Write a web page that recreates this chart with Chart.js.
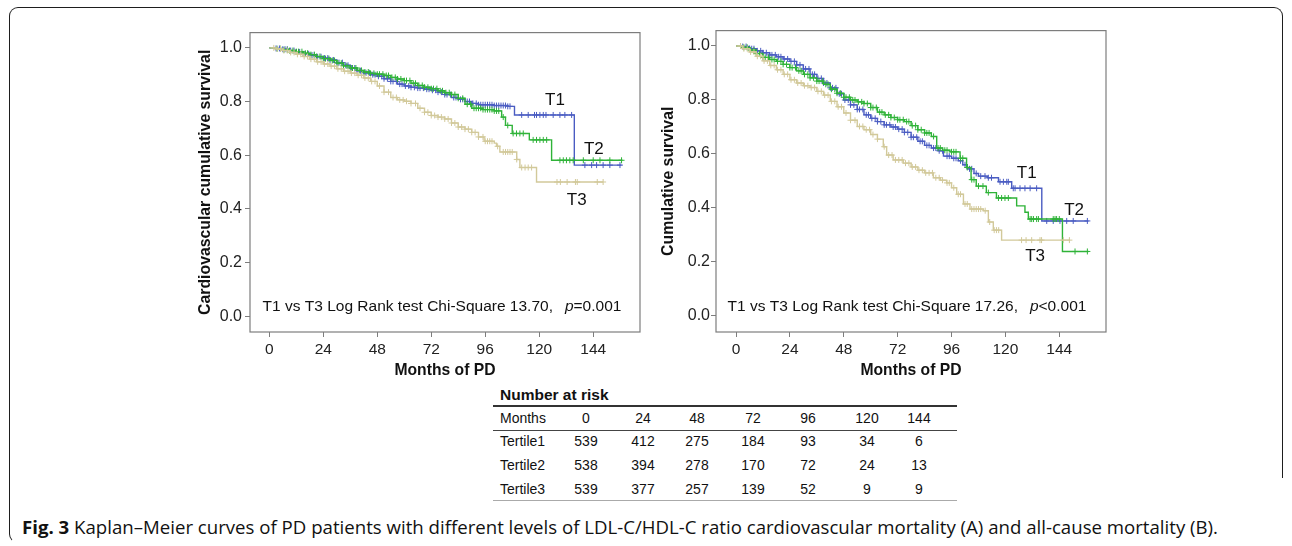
<!DOCTYPE html>
<html><head><meta charset="utf-8">
<script src="https://cdn.jsdelivr.net/npm/chart.js@4.4.0/dist/chart.umd.min.js"></script>
<style>
html,body{margin:0;padding:0;background:#fff;}
body{width:1292px;height:546px;overflow:hidden;position:relative;font-family:"Liberation Sans",Arial,sans-serif;color:#111;}
.frameTop{position:absolute;left:9px;top:7px;width:1272px;height:470px;border:1.5px solid #1e1e1e;border-bottom:none;border-radius:9px 9px 0 0;}
.frameLeft{position:absolute;left:9px;top:470px;width:10px;height:72px;border-left:1.5px solid #1e1e1e;border-bottom:1.5px solid transparent;border-radius:0 0 0 9px;}
canvas{position:absolute;}
.t{position:absolute;white-space:nowrap;transform:translate(-50%,-50%);font-size:14px;color:#111;}
.tl{position:absolute;white-space:nowrap;transform:translate(0,-50%);font-size:14px;color:#111;}
.hl{position:absolute;left:493px;width:464px;}
#cap{position:absolute;left:22px;top:527px;transform-origin:0 50%;white-space:nowrap;font-family:"Open Sans",sans-serif;font-size:17.5px;color:#111;line-height:22px;margin-top:-11px;}
</style>
</head><body>
<div class="frameTop"></div>
<div class="frameLeft"></div>
<canvas id="cA" width="455" height="365" style="left:190px;top:20px;"></canvas>
<canvas id="cB" width="461" height="365" style="left:650px;top:20px;"></canvas>
<div id="tbl"></div>
<div id="cap"><b>Fig. 3</b> Kaplan–Meier curves of PD patients with different levels of LDL-C/HDL-C ratio cardiovascular mortality (A) and all-cause mortality (B).</div>
<script>
// ---------- tick labels ----------
const xTicks = [0, 24, 48, 72, 96, 120, 144];
const yTicks = [0.0, 0.2, 0.4, 0.6, 0.8, 1.0];
const seriesNames = ["T1", "T2", "T3"];

// ---------- Panel A: cardiovascular cumulative survival ----------
const aT1Time = [0,3,6,9,12,15,18,21,24,27,30,33,36,39,42,45,48,51,54,57,60,63,66,69,72,75,78,81,84,87,90,93,100,106,109,135.6,156.6];
const aT1Surv = [1,0.998,0.995,0.99,0.985,0.978,0.973,0.967,0.962,0.955,0.945,0.935,0.925,0.915,0.907,0.9,0.894,0.885,0.875,0.865,0.858,0.853,0.85,0.846,0.842,0.835,0.826,0.815,0.808,0.8,0.793,0.788,0.785,0.782,0.75,0.563,0.563];
const aT1Cens = [3,4.5,6,7,8,9.5,11,12,13.5,15,16,17.5,19,20,21.5,23,24.5,26,27,28.5,30,31,32.5,34,35,36.5,38,39,40.5,42,43,44.5,46,47,48.5,50,51,52.5,54,55,56.5,58,59,60.5,62,63,64.5,66,67,68.5,70,71,72.5,74,75,76.5,78,79,80.5,82,83,85,86,88,89,90.5,92,93,94,95,96,97,98,99,100,101,102,103,104,105,106,107,112.2,115.1,117.9,118.8,120.3,121.8,123,126.2,129.2,131.4,134.4,140.3,143.3,145.5,148.4,151.4,155.9];

const aT2Time = [0,3,6,9,12,15,18,21,24,27,30,33,36,39,42,45,48,51,54,57,60,63,66,69,72,75,78,81,84,87,90,95,100,103.3,105,108,115.6,125.5,157];
const aT2Surv = [1,0.997,0.993,0.99,0.986,0.98,0.975,0.968,0.96,0.953,0.943,0.933,0.925,0.916,0.91,0.905,0.902,0.897,0.89,0.884,0.878,0.868,0.86,0.853,0.848,0.84,0.833,0.826,0.812,0.79,0.775,0.77,0.765,0.742,0.711,0.681,0.657,0.581,0.581];
const aT2Cens = [3.5,5,6.5,8,9,10.5,12,13,14.5,16,17,18.5,20,21,22.5,24,25,26.5,28,29,30.5,32,33,34.5,36,37,38.5,40,41,42.5,44,45,46.5,48,49,50.5,52,53,54.5,56,57,58.5,60,61,62.5,64,65,66.5,68,69,70.5,72,73,74.5,76,77,78.5,80,81,82.5,84,86,88,89.5,91,92,93,94,95,96,97,98,99,100,101,102,104,106,108.4,109.9,111.4,112.9,117.3,118.8,120.3,121.8,123.3,129.2,130.7,132.1,133.6,135.1,139.6,144,147,151.4,156.6];

const aT3Time = [0,3,6,9,12,15,18,21,24,27,30,33,36,39,42,45,48,51,54,57,60,63,66,69,72,75,78,81,84,87,90,93,95.5,100,101,102.5,110,111.4,118.8,148.4];
const aT3Surv = [1,0.996,0.99,0.983,0.976,0.968,0.958,0.948,0.94,0.932,0.922,0.913,0.906,0.898,0.888,0.875,0.858,0.835,0.815,0.806,0.801,0.793,0.775,0.76,0.748,0.742,0.735,0.72,0.705,0.697,0.685,0.668,0.652,0.645,0.633,0.612,0.584,0.554,0.5,0.5];
const aT3Cens = [2,3.5,5,6.5,8,9.5,11,12.5,14,15.5,17,18.5,20,21.5,23,24.5,26,27.5,29,30.5,32,33.5,35,36.5,38,39.5,41,42.5,44,45.5,47,49,51,53,55,56.5,58,59.5,61,63,65,67,69,70.5,72,73.5,75,76.5,78,79.5,81,82.5,84,85.5,87,88.5,90,91.5,93,95,96,97,98,99,101.5,104,105,106,107,108,110,112.2,113.7,115.1,116.6,127.9,129.4,132.4,136.1,136.9,145.8,148.4];

// ---------- Panel B: all-cause cumulative survival ----------
const bT1Time = [0,3,6,9,12,15,18,21,24,27,30,33,36,39,42,45,48,51,54,57,60,63,66,69,72,75,78,81,84,87,90,92.4,96,99,101,103,106,108,112,116.9,122.8,136.2,157];
const bT1Surv = [1,0.998,0.99,0.982,0.975,0.967,0.96,0.952,0.943,0.93,0.915,0.895,0.88,0.863,0.845,0.823,0.8,0.782,0.765,0.745,0.732,0.72,0.708,0.7,0.692,0.68,0.662,0.647,0.632,0.622,0.612,0.592,0.584,0.575,0.56,0.545,0.528,0.518,0.512,0.497,0.473,0.352,0.352];
const bT1Cens = [3,4.5,6,7,8,9.5,11,12,13.5,15,16,17.5,19,20,21.5,23,24.5,26,27,28.5,30,31,32.5,34,35,36.5,38,39,40.5,42,43,44.5,46,47,48.5,50,51,52.5,54,55,56.5,58,59,60.5,62,63,64.5,66,67,68.5,70,71,72.5,74,75,76.5,78,79,80.5,82,83,85,86,88,89,90.5,92,94,95,97,98,100,102,104,105,107,109,110.9,112.4,113.8,117.6,119.1,120.6,121.3,123.5,124.3,126.5,128.7,131,133.9,138.4,141.3,144.3,147.3,150.2,156.5];

const bT2Time = [0,3,6,9,12,15,18,21,24,27,30,33,36,39,42,45,48,51,54,57,60,63,66,69,72,75,78,81,84,87,89.4,92,95.3,99.8,102.7,104.7,107,111.5,116,125,128.7,130.2,145.4,157];
const bT2Surv = [1,0.995,0.985,0.972,0.958,0.95,0.943,0.932,0.92,0.908,0.895,0.882,0.87,0.858,0.84,0.825,0.81,0.8,0.793,0.787,0.772,0.755,0.745,0.735,0.727,0.72,0.705,0.69,0.678,0.665,0.622,0.614,0.608,0.584,0.55,0.505,0.481,0.457,0.437,0.408,0.384,0.359,0.239,0.239];
const bT2Cens = [3.5,5,6.5,8,9,10.5,12,13,14.5,16,17,18.5,20,21,22.5,24,25,26.5,28,29,30.5,32,33,34.5,36,37,38.5,40,41,42.5,44,45,46.5,48,49,50.5,52,53,54.5,56,57,58.5,60,61,62.5,64,65,66.5,68,69,70.5,72,73,74.5,76,77,78.5,80,81,82.5,84,85,86,88,90,91,93,94,96,97,98,100,101,103,105,106,108,110,112.4,116.9,118.3,119.8,121.3,131,131.7,132.5,133.9,134.7,141.3,142.1,142.8,144,151,156.5];

const bT3Time = [0,3,6,9,12,15,18,21,24,27,30,33,36,39,42,45,48,51,54,57,60,63,65.6,67.1,70,74.5,78,81,84,87.9,91,93.8,96,98.3,101.3,104.2,110.2,112.4,114.6,118.3,148.8];
const bT3Surv = [1,0.99,0.978,0.962,0.945,0.928,0.912,0.895,0.875,0.863,0.853,0.846,0.832,0.818,0.795,0.775,0.752,0.725,0.702,0.69,0.672,0.655,0.627,0.596,0.578,0.566,0.552,0.54,0.53,0.512,0.503,0.493,0.475,0.451,0.415,0.396,0.39,0.348,0.318,0.281,0.281];
const bT3Cens = [2,3.5,5,6.5,8,9.5,11,12.5,14,15.5,17,18.5,20,21.5,23,24.5,26,27.5,29,30.5,32,33.5,35,36.5,38,39.5,41,42.5,44,45.5,47,49,51,53,55,56.5,58,59.5,61,63,66,68,69.5,71,72.5,74,75.5,77,78.5,80,81.5,83,84.5,86,87.5,89,90.5,92,94,95,97,99,100,102,103,105,106,107,108,109,111,113,115,116,117,127.2,129.2,131.7,135.4,136.1,145.8,148.5];

// ---------- Number at risk ----------
const riskMonths = [0, 24, 48, 72, 96, 120, 144];
const riskRows = ["Tertile1", "Tertile2", "Tertile3"];
const riskT1 = [539, 412, 275, 184, 93, 34, 6];
const riskT2 = [538, 394, 278, 170, 72, 24, 13];
const riskT3 = [539, 377, 257, 139, 52, 9, 9];

// ---------- styles ----------
const COLORS = ["#4a5cc2", "#2fb338", "#d2c99a"];
const FONT = '"Liberation Sans", Arial, sans-serif';

function stepData(times, surv) { return times.map((t, i) => ({x: t, y: surv[i]})); }
function censorData(cens, times, surv) {
  return cens.map(c => { let i = 0; while (i + 1 < times.length && times[i + 1] <= c) i++; return {x: c, y: surv[i]}; });
}

const framePlugin = {
  id: 'kmFrame',
  afterDraw(chart, args, o) {
    const {ctx, chartArea: a, scales: {x, y}} = chart;
    ctx.save();
    ctx.strokeStyle = '#7d7d7d'; ctx.lineWidth = 1.2;
    ctx.strokeRect(a.left, a.top, a.right - a.left, a.bottom - a.top);
    ctx.fillStyle = '#111'; ctx.textAlign = 'center'; ctx.textBaseline = 'middle';
    ctx.font = '17px ' + FONT;
    o.labels.forEach((l, i) => ctx.fillText(seriesNames[i], x.getPixelForValue(l[0]), y.getPixelForValue(l[1])));
    // note text
    const p1 = o.note[0], p2 = 'p', p3 = o.note[1], gap = 12;
    const fN = '15.5px ' + FONT, fI = 'italic 15.5px ' + FONT;
    ctx.font = fN; const w1 = ctx.measureText(p1).width, w3 = ctx.measureText(p3).width;
    ctx.font = fI; const w2 = ctx.measureText(p2).width;
    let sx = (a.left + a.right) / 2 + o.noteDx - (w1 + gap + w2 + w3) / 2;
    const sy = a.bottom - 25;
    ctx.textAlign = 'left';
    ctx.font = fN; ctx.fillText(p1, sx, sy); sx += w1 + gap;
    ctx.font = fI; ctx.fillText(p2, sx, sy); sx += w2;
    ctx.font = fN; ctx.fillText(p3, sx, sy);
    ctx.restore();
  }
};

function makeChart(id, series, xr, yTitle, yAxisW, yTitlePad, yTickPad, labels, note, noteDx) {
  const datasets = [];
  series.forEach((s, i) => {
    datasets.push({type: 'line', data: stepData(s[0], s[1]), stepped: true, borderColor: COLORS[i], borderWidth: 1.4, pointRadius: 0, fill: false, order: 10 - i});
    datasets.push({type: 'scatter', data: censorData(s[2], s[0], s[1]), showLine: false, pointStyle: 'cross', pointRadius: 3, borderColor: COLORS[i], borderWidth: 1, order: 10 - i});
  });
  return new Chart(document.getElementById(id), {
    type: 'line',
    data: {datasets},
    plugins: [framePlugin],
    options: {
      responsive: false, animation: false, devicePixelRatio: 1,
      layout: {padding: {top: 5, right: 5, left: 0, bottom: 0}},
      plugins: {legend: {display: false}, tooltip: {enabled: false}, kmFrame: {labels, note, noteDx}},
      scales: {
        x: {type: 'linear', min: xr[0], max: xr[1],
          afterBuildTicks: sc => { sc.ticks = xTicks.map(v => ({value: v})); },
          afterFit: sc => { sc.height = 53; },
          grid: {display: true, drawOnChartArea: false, drawTicks: true, tickLength: 5, color: '#7d7d7d'},
          border: {display: false},
          ticks: {font: {family: FONT, size: 15.5}, color: '#222', padding: 3, maxRotation: 0, callback: v => String(v)},
          title: {display: true, text: 'Months of PD', font: {family: FONT, size: 15.7, weight: 'bold'}, color: '#111', padding: {top: 0, bottom: 5}}
        },
        y: {type: 'linear', min: -0.0593, max: 1.057,
          afterBuildTicks: sc => { sc.ticks = yTicks.map(v => ({value: v})); },
          afterFit: sc => { sc.width = yAxisW; },
          grid: {display: true, drawOnChartArea: false, drawTicks: true, tickLength: 5, color: '#7d7d7d'},
          border: {display: false},
          ticks: {font: {family: FONT, size: 16}, color: '#222', padding: yTickPad, callback: v => v.toFixed(1)},
          title: {display: true, text: yTitle, font: {family: FONT, size: 15.8, weight: 'bold'}, color: '#111', padding: {top: yTitlePad, bottom: 0}}
        }
      }
    }
  });
}

makeChart('cA', [[aT1Time, aT1Surv, aT1Cens], [aT2Time, aT2Surv, aT2Cens], [aT3Time, aT3Surv, aT3Cens]],
  [-8.58, 164.8], 'Cardiovascular cumulative survival', 60, 6, 3,
  [[127, 0.803], [144.3, 0.621], [136.7, 0.433]],
  ['T1 vs T3 Log Rank test Chi-Square 13.70,', '=0.001'], -3);
makeChart('cB', [[bT1Time, bT1Surv, bT1Cens], [bT2Time, bT2Surv, bT2Cens], [bT3Time, bT3Surv, bT3Cens]],
  [-8.91, 164.8], 'Cumulative survival', 66, 9, 1,
  [[129.5, 0.53], [150.6, 0.392], [133.2, 0.221]],
  ['T1 vs T3 Log Rank test Chi-Square 17.26,', '<0.001'], -4);

// ---------- risk table ----------
(function () {
  const tbl = document.getElementById('tbl');
  const cols = [586, 643, 697, 753, 808, 867, 919];
  const rowY = [418, 441, 465, 489];
  function add(cls, txt, x, y, extra) {
    const d = document.createElement('div'); d.className = cls; d.textContent = txt;
    d.style.left = x + 'px'; d.style.top = y + 'px'; if (extra) Object.assign(d.style, extra); tbl.appendChild(d);
  }
  add('tl', 'Number at risk', 500, 395, {fontWeight: 'bold', fontSize: '15.5px'});
  add('tl', 'Months', 500, rowY[0]);
  riskMonths.forEach((m, i) => add('t', String(m), cols[i], rowY[0]));
  [riskT1, riskT2, riskT3].forEach((row, r) => {
    add('tl', riskRows[r], 500, rowY[r + 1]);
    row.forEach((v, i) => add('t', String(v), cols[i], rowY[r + 1]));
  });
  [[405, 1.5, '#333'], [430, 1, '#444'], [500, 1, '#aaa']].forEach(l => {
    const d = document.createElement('div'); d.className = 'hl';
    d.style.top = l[0] + 'px'; d.style.height = l[1] + 'px'; d.style.background = l[2]; tbl.appendChild(d);
  });
})();

// fit caption width
(function () {
  const c = document.getElementById('cap');
  const w = c.getBoundingClientRect().width;
  c.style.transform = 'scaleX(' + (1196 / w) + ')';
})();
</script>
</body></html>
